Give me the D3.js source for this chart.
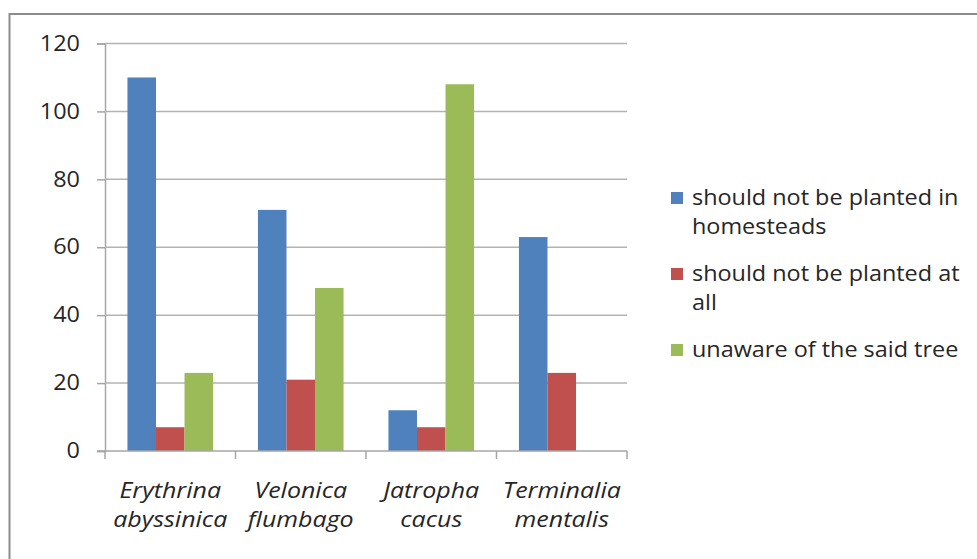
<!DOCTYPE html>
<html>
<head>
<meta charset="utf-8">
<script src="https://cdn.jsdelivr.net/npm/d3@7"></script>
<style>
  body { margin: 0; background: #fff; }
  svg { display: block; font-family: "Open Sans", sans-serif; }
</style>
</head>
<body>
<svg id="visualization" width="977" height="559"></svg>
<script>
const categories = [["Erythrina", "abyssinica"], ["Velonica", "flumbago"], ["Jatropha", "cacus"], ["Terminalia", "mentalis"]];
const seriesNames = ["should not be planted in homesteads", "should not be planted at all", "unaware of the said tree"];
const legendLines = [["should not be planted in", "homesteads"], ["should not be planted at", "all"], ["unaware of the said tree"]];
const homesteads = [110, 71, 12, 63];
const notAtAll = [7, 21, 7, 23];
const unaware = [23, 48, 108, null];
const yTicks = [0, 20, 40, 60, 80, 100, 120];
const colors = ["#4f81bd", "#c0504d", "#9bbb59"];

const seriesValues = [homesteads, notAtAll, unaware];

// the source text is a little wider than Open Sans
const stretch = 1.115;

const svg = d3.select("#visualization");

// outer frame
svg.append("rect")
    .attr("x", 9.5).attr("y", 14)
    .attr("width", 1000).attr("height", 600)
    .attr("fill", "none")
    .attr("stroke", "#8c8c8c")
    .attr("stroke-width", 2);

const plotLeft = 105, plotRight = 627, plotTop = 43.5, plotBottom = 451;

const x0 = d3.scaleBand()
    .domain(d3.range(categories.length))
    .range([plotLeft, plotRight]);

const x1 = d3.scaleBand()
    .domain(d3.range(seriesNames.length))
    .range([x0.bandwidth() * 0.172, x0.bandwidth() * 0.828]);

const y = d3.scaleLinear()
    .domain([0, 120])
    .range([plotBottom, plotTop]);

// y axis
const yAxis = svg.append("g")
    .attr("transform", `translate(${plotLeft},0)`)
    .call(d3.axisLeft(y).tickValues(yTicks).tickSize(8).tickPadding(0))
    .call(g => g.select(".domain").attr("stroke", "#a6a6a6").attr("stroke-width", 1.5));

yAxis.selectAll(".tick line").attr("stroke", "#a6a6a6").attr("stroke-width", 1.5);
yAxis.selectAll(".tick text")
    .attr("font-size", 21)
    .attr("fill", "#262626")
    .attr("font-family", "Open Sans")
    .attr("x", 0)
    .attr("transform", `translate(-25,0) scale(${stretch},1)`);

// gridlines
svg.append("g").selectAll("line")
    .data(yTicks.filter(d => d > 0))
    .join("line")
    .attr("x1", plotLeft).attr("x2", plotRight)
    .attr("y1", d => y(d)).attr("y2", d => y(d))
    .attr("stroke", "#b3b3b3")
    .attr("stroke-width", 1.5);

// bars
const groups = svg.append("g").selectAll("g")
    .data(categories.map((c, i) => i))
    .join("g")
    .attr("transform", i => `translate(${x0(i)},0)`);

groups.selectAll("rect")
    .data(i => seriesValues.map((s, j) => ({ j, v: s[i] })).filter(d => d.v != null))
    .join("rect")
    .attr("x", d => x1(d.j))
    .attr("width", x1.bandwidth())
    .attr("y", d => y(d.v))
    .attr("height", d => y(0) - y(d.v))
    .attr("fill", d => colors[d.j]);

// x axis
const xAxis = svg.append("g")
    .attr("transform", `translate(0,${plotBottom})`);

xAxis.append("line")
    .attr("x1", 97).attr("x2", plotRight)
    .attr("stroke", "#a6a6a6").attr("stroke-width", 1.5);

xAxis.selectAll(".xt")
    .data(d3.range(categories.length + 1))
    .join("line")
    .attr("class", "xt")
    .attr("x1", i => i < categories.length ? x0(i) : plotRight)
    .attr("x2", i => i < categories.length ? x0(i) : plotRight)
    .attr("y1", 0).attr("y2", 8)
    .attr("stroke", "#a6a6a6").attr("stroke-width", 1.5);

xAxis.selectAll(".xl")
    .data(categories)
    .join("text")
    .attr("class", "xl")
    .attr("text-anchor", "middle")
    .attr("font-size", 21)
    .attr("font-style", "italic")
    .attr("fill", "#262626")
    .attr("transform", (c, i) => `translate(${x0(i) + x0.bandwidth() / 2},0) scale(1.19,1)`)
    .selectAll("tspan")
    .data(c => c.map((t, k) => ({ t, k })))
    .join("tspan")
    .attr("x", 0)
    .attr("y", d => 47 + d.k * 29)
    .text(d => d.t);

// legend
const legendY = [198, 274, 350];
const legend = svg.append("g").selectAll("g")
    .data(seriesNames)
    .join("g")
    .attr("transform", (d, i) => `translate(671,${legendY[i]})`);

legend.append("rect")
    .attr("x", 0).attr("y", -6)
    .attr("width", 12).attr("height", 12)
    .attr("fill", (d, i) => colors[i]);

legend.append("text")
    .attr("font-size", 21)
    .attr("fill", "#262626")
    .attr("transform", `translate(21,0) scale(${stretch},1)`)
    .selectAll("tspan")
    .data((d, i) => legendLines[i])
    .join("tspan")
    .attr("x", 0)
    .attr("y", (t, k) => 7 + k * 29)
    .text(t => t);
</script>
</body>
</html>
